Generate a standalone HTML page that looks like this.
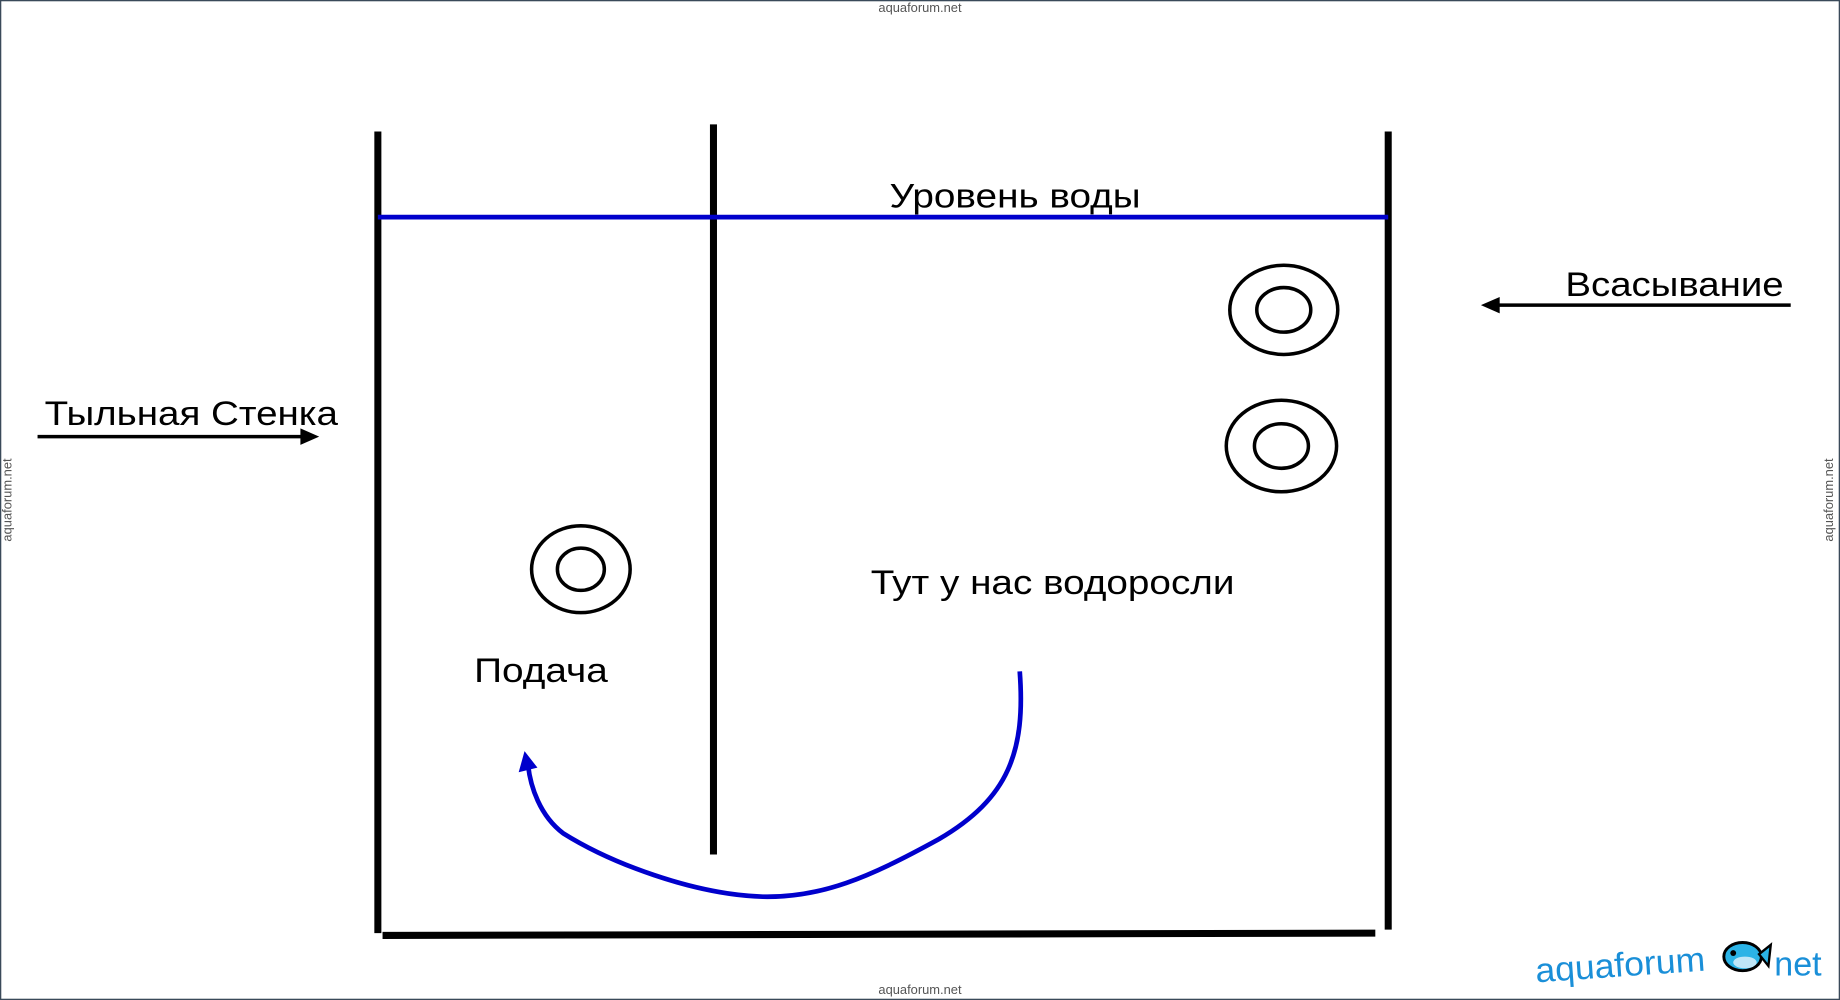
<!DOCTYPE html>
<html><head><meta charset="utf-8"><style>
html,body{margin:0;padding:0;background:#fff;overflow:hidden}
svg{display:block}
text{font-family:"Liberation Sans",sans-serif}
</style></head><body>
<svg width="1840" height="1000" viewBox="0 0 1568 852" preserveAspectRatio="none" xmlns="http://www.w3.org/2000/svg">
<rect x="0.5" y="0.5" width="1567" height="851" fill="#fff" stroke="#3a4a5a" stroke-width="1.2"/>
<text x="784" y="10" font-size="11" fill="#555" text-anchor="middle">aquaforum.net</text>
<text x="784" y="847" font-size="11" fill="#555" text-anchor="middle">aquaforum.net</text>
<text x="0" y="0" font-size="11" fill="#555" text-anchor="middle" transform="translate(10,426) rotate(-90)">aquaforum.net</text>
<text x="0" y="0" font-size="11" fill="#555" text-anchor="middle" transform="translate(1562,426) rotate(-90)">aquaforum.net</text>
<line x1="322" y1="112" x2="322" y2="795" stroke="#000" stroke-width="6"/>
<line x1="608" y1="106" x2="608" y2="728" stroke="#000" stroke-width="6"/>
<line x1="1183" y1="112" x2="1183" y2="792" stroke="#000" stroke-width="6"/>
<line x1="326" y1="797" x2="1172" y2="795" stroke="#000" stroke-width="6"/>
<line x1="322" y1="185" x2="1183" y2="185" stroke="#0000cc" stroke-width="4"/>
<text x="758" y="177" font-size="29" fill="#000" textLength="214" lengthAdjust="spacingAndGlyphs">Уровень воды</text>
<ellipse cx="1094" cy="264" rx="46" ry="38" fill="none" stroke="#000" stroke-width="3"/>
<ellipse cx="1094" cy="264" rx="23" ry="19" fill="none" stroke="#000" stroke-width="3"/>
<ellipse cx="1092" cy="380" rx="47" ry="39" fill="none" stroke="#000" stroke-width="3"/>
<ellipse cx="1092" cy="380" rx="23" ry="19" fill="none" stroke="#000" stroke-width="3"/>
<ellipse cx="495" cy="485" rx="42" ry="37" fill="none" stroke="#000" stroke-width="3"/>
<ellipse cx="495" cy="485" rx="20" ry="18" fill="none" stroke="#000" stroke-width="3"/>
<text x="38" y="362" font-size="29" fill="#000" textLength="250" lengthAdjust="spacingAndGlyphs">Тыльная Стенка</text>
<line x1="32" y1="372" x2="258" y2="372" stroke="#000" stroke-width="3"/>
<polygon points="272,372 256,365 256,379" fill="#000"/>
<text x="1334" y="252" font-size="29" fill="#000" textLength="186" lengthAdjust="spacingAndGlyphs">Всасывание</text>
<line x1="1274" y1="260" x2="1526" y2="260" stroke="#000" stroke-width="3"/>
<polygon points="1262,260 1278,253 1278,267" fill="#000"/>
<text x="404" y="581" font-size="29" fill="#000" textLength="114" lengthAdjust="spacingAndGlyphs">Подача</text>
<text x="742" y="506" font-size="29" fill="#000" textLength="310" lengthAdjust="spacingAndGlyphs">Тут у нас водоросли</text>
<path d="M869,572 C874,640 860,680 800,715 C740,748 700,765 650,764 C590,762 520,735 480,710 C460,695 452,670 450,652" fill="none" stroke="#0000cc" stroke-width="4"/>
<polygon points="447,640 442,658 458,654" fill="#0000cc"/>
<g transform="rotate(-4 1380 820)"><text x="1308" y="832" font-size="29" fill="#1a8fd8" textLength="145" lengthAdjust="spacingAndGlyphs">aquaforum</text></g>
<g transform="translate(1485,815)">
<ellipse cx="0" cy="0" rx="16" ry="12" fill="#2bb3e6" stroke="#000" stroke-width="2.5"/>
<polygon points="14,-2 24,-10 22,8" fill="#2bb3e6" stroke="#000" stroke-width="2"/>
<ellipse cx="2" cy="5" rx="10" ry="5" fill="#bfe6f7"/>
<circle cx="-8" cy="-3" r="2.5" fill="#000"/>
</g>
<text x="1512" y="831" font-size="29" fill="#1a8fd8">net</text>
</svg>
</body></html>
